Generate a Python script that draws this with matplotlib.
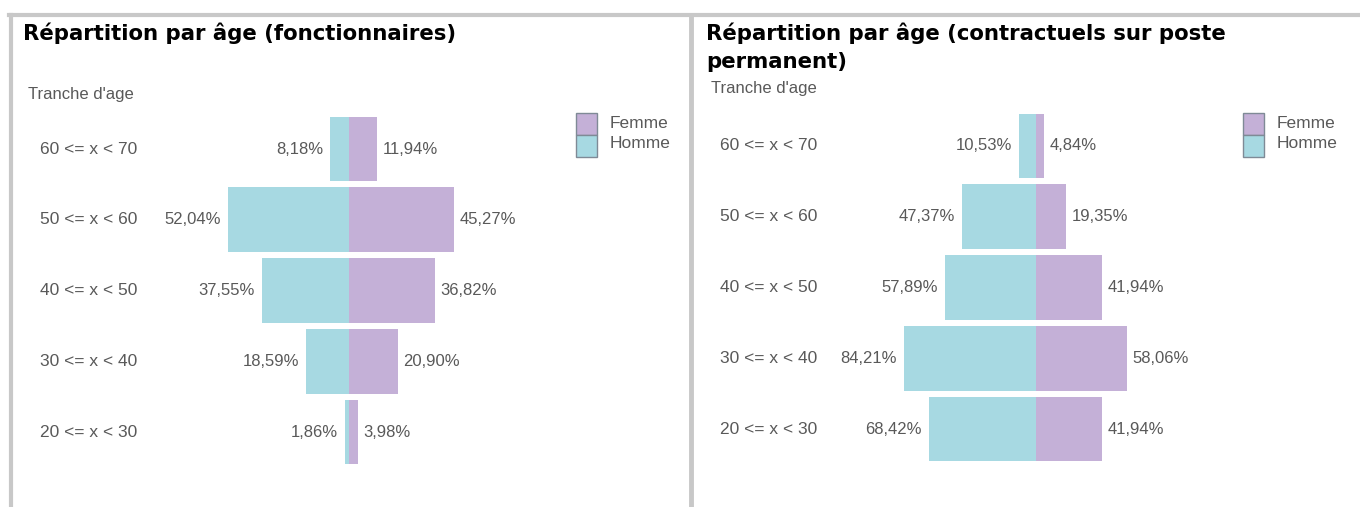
import matplotlib.pyplot as plt
from matplotlib import transforms
from matplotlib.patches import Rectangle
from matplotlib.lines import Line2D

# Data
tranches = ['60 <= x < 70', '50 <= x < 60', '40 <= x < 50', '30 <= x < 40', '20 <= x < 30']
fonct_homme = [8.18, 52.04, 37.55, 18.59, 1.86]
fonct_femme = [11.94, 45.27, 36.82, 20.90, 3.98]
contr_homme = [10.53, 47.37, 57.89, 84.21, 68.42]
contr_femme = [4.84, 19.35, 41.94, 58.06, 41.94]

c_homme = '#a7d9e2'
c_femme = '#c4b0d7'
gris = '#595959'
W, H = 1360, 507

fig = plt.figure(figsize=(13.6, 5.07), dpi=100)


def fx(px):
    return px / W


def fy(py):
    return 1 - py / H


def fmt(v):
    return f'{v:.2f}'.replace('.', ',') + '%'


def panel(x0, x1, center, scale, row0, homme, femme, title, sub_y, leg_x, lab_x):
    # axes placed so that 0 sits at `center` px with `scale` px per %
    top = row0 - 0.7 * 70.75
    bot = row0 + 4.7 * 70.75
    ax = fig.add_axes([fx(x0), fy(bot), fx(x1 - x0), (bot - top) / H])
    ax.set_xlim(-(center - x0) / scale, (x1 - center) / scale)
    ax.set_ylim(4.7, -0.7)
    ax.axis('off')
    y = range(len(tranches))
    ax.barh(y, [-v for v in homme], height=0.915, color=c_homme)
    ax.barh(y, femme, height=0.915, color=c_femme)
    for i in y:
        ax.annotate(fmt(homme[i]), (-homme[i], i), xytext=(-5, 0), textcoords='offset points',
                    ha='right', va='center', fontsize=12, color=gris, family='Liberation Sans')
        ax.annotate(fmt(femme[i]), (femme[i], i), xytext=(4, 0), textcoords='offset points',
                    ha='left', va='center', fontsize=12, color=gris, family='Liberation Sans')
    tr = transforms.blended_transform_factory(fig.transFigure, ax.transData)
    for i, t in enumerate(tranches):
        ax.text(fx(lab_x), i, t, transform=tr, ha='left', va='center',
                fontsize=12.5, color=gris, family='Liberation Sans')
    fig.text(fx(x0 + 3), fy(23), title, ha='left', va='top', fontsize=15.3,
             fontweight='bold', family='DejaVu Sans', linespacing=1.45)
    fig.text(fx(x0 + 8), fy(sub_y), "Tranche d'age", ha='left', va='center',
             fontsize=12, color=gris, family='Liberation Sans')
    # legend
    for k, (lab, col) in enumerate([('Femme', c_femme), ('Homme', c_homme)]):
        yy = 113 + 22 * k
        fig.patches.append(Rectangle((fx(leg_x), fy(yy + 22)), fx(21), 22 / H,
                                     transform=fig.transFigure, facecolor=col,
                                     edgecolor='#7f8a96', linewidth=1))
        fig.text(fx(leg_x + 34), fy(124 + 19 * k), lab, ha='left', va='center',
                 fontsize=12.5, color=gris, family='Liberation Sans')


panel(20, 680, 349, 2.325, 149, fonct_homme, fonct_femme,
      'Répartition par âge (fonctionnaires)', 94, 576, 40)
panel(703, 1355, 1036, 1.57, 146, contr_homme, contr_femme,
      'Répartition par âge (contractuels sur poste\npermanent)', 89, 1243, 720)

# frame lines
bord = '#c8c8c8'
fig.add_artist(Line2D([fx(9), 1], [fy(15), fy(15)], color=bord, lw=3, transform=fig.transFigure))
fig.add_artist(Line2D([fx(11), fx(11)], [fy(15), 0], color=bord, lw=3, transform=fig.transFigure))
fig.add_artist(Line2D([fx(691), fx(691)], [fy(15), 0], color=bord, lw=3.5, transform=fig.transFigure))

fig.savefig('out.png', dpi=100)
